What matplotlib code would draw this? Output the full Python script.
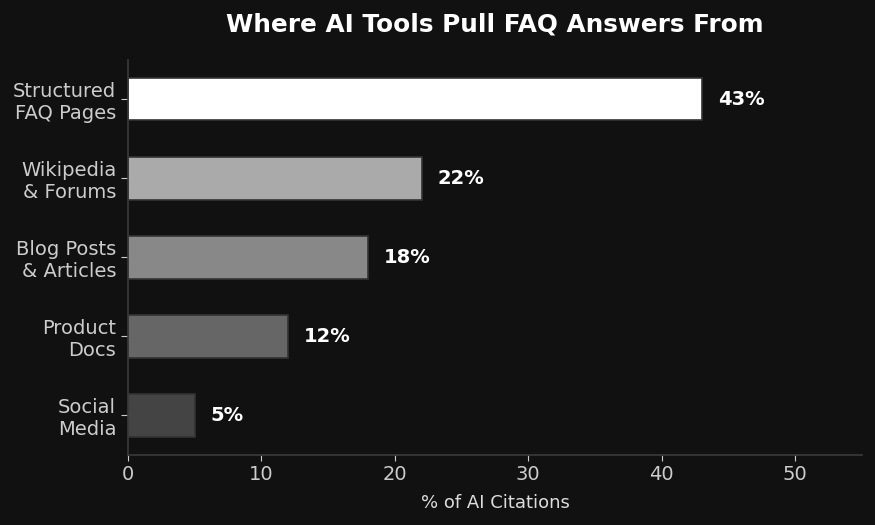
import matplotlib.pyplot as plt

plt.rcParams["font.family"] = ["DejaVu Sans"]

categories = ["Structured\nFAQ Pages", "Wikipedia\n& Forums", "Blog Posts\n& Articles",
              "Product\nDocs", "Social\nMedia"]
shares = [43, 22, 18, 12, 5]
bar_colors = ["#ffffff", "#aaaaaa", "#888888", "#666666", "#444444"]

bg = "#111111"
fig = plt.figure(figsize=(8.75, 5.25), dpi=100, facecolor=bg)
ax = fig.add_axes([0.1463, 0.1333, 0.8387, 0.7532], facecolor=bg)

ax.barh(categories, shares, height=0.54, color=bar_colors, edgecolor="#333333", linewidth=1.2)
for i, v in enumerate(shares):
    ax.text(v + 1.2, i, f"{v}%", va="center", ha="left", color="white",
            fontsize=14, fontweight="bold")

ax.set_xlim(0, 55)
ax.set_ylim(4.5, -0.5)
ax.set_xticks([0, 10, 20, 30, 40, 50])

for s in ["top", "right"]:
    ax.spines[s].set_visible(False)
for s in ["left", "bottom"]:
    ax.spines[s].set_color("#3a3a3a")
    ax.spines[s].set_linewidth(1.2)

ax.tick_params(axis="both", colors="#cccccc", labelsize=14, length=4)
ax.tick_params(axis="y", length=5)
ax.set_xlabel("% of AI Citations", color="#dddddd", fontsize=13, labelpad=7)
ax.set_title("Where AI Tools Pull FAQ Answers From", color="white", fontsize=17.8,
             fontweight="bold", pad=20)

fig.savefig("out.png", dpi=100, facecolor=bg)
